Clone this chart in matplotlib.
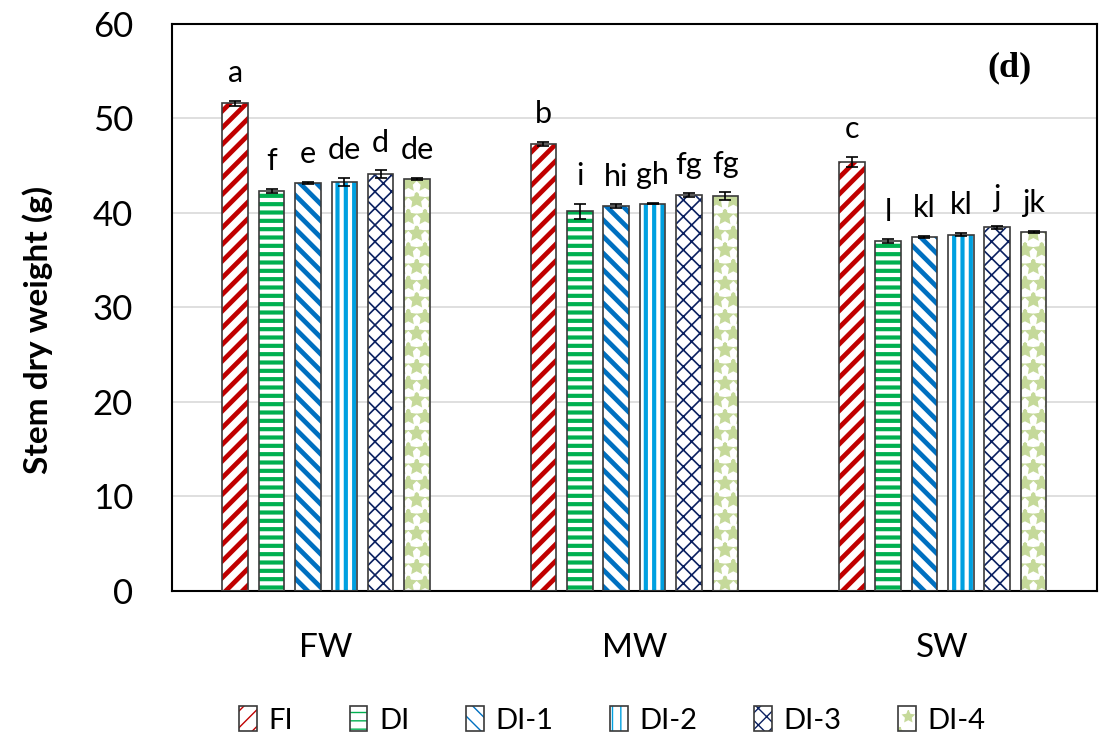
import matplotlib.pyplot as plt
import numpy as np

plt.rcParams['font.family'] = ['Lato', 'DejaVu Sans']

groups = ['FW', 'MW', 'SW']
treatments = ['FI', 'DI', 'DI-1', 'DI-2', 'DI-3', 'DI-4']

# mean stem dry weight (g), rows = treatment, cols = FW, MW, SW
means = [
    [51.6, 47.3, 45.4],
    [42.3, 40.2, 37.0],
    [43.2, 40.7, 37.5],
    [43.3, 41.0, 37.7],
    [44.1, 41.9, 38.5],
    [43.6, 41.8, 38.0],
]
errs = [
    [0.3, 0.2, 0.5],
    [0.2, 0.8, 0.2],
    [0.1, 0.2, 0.1],
    [0.4, 0.1, 0.15],
    [0.4, 0.2, 0.15],
    [0.1, 0.4, 0.1],
]
letters = [
    ['a', 'b', 'c'],
    ['f', 'i', 'l'],
    ['e', 'hi', 'kl'],
    ['de', 'gh', 'kl'],
    ['d', 'fg', 'j'],
    ['de', 'fg', 'jk'],
]

hatch_colors = ['#c00000', '#00b050', '#0070c0', '#00a0e0', '#0a2060', '#c5d99a']
hatches = ['//', '--', '\\\\', '||', 'xx', '*']
hatch_lw = [3.4, 3.0, 3.4, 3.0, 1.2, 2.4]

fig = plt.figure(figsize=(10.99, 7.49), dpi=100)
ax = fig.add_axes([0.1565, 0.211, 0.8415, 0.757])

x = np.arange(len(groups))
step = 0.118
width = 0.083

handles = []
for i, t in enumerate(treatments):
    pos = x + (i - 2.5) * step
    with plt.rc_context({'hatch.linewidth': hatch_lw[i]}):
        h1 = ax.bar(pos, means[i], width, color='white', edgecolor=hatch_colors[i],
                    hatch=hatches[i], linewidth=0, zorder=2)
    h2 = ax.bar(pos, means[i], width, fill=False, edgecolor='#3a3a3a',
                linewidth=1.2, zorder=3)
    handles.append((h1, h2))
    ax.errorbar(pos, means[i], yerr=errs[i], fmt='none', ecolor='black',
                elinewidth=1.2, capsize=4, capthick=1.2, zorder=4)
    for j in range(len(groups)):
        ax.text(pos[j], means[i][j] + errs[i][j] + 2.0, letters[i][j],
                ha='center', va='baseline', fontsize=22)

ax.set_xlim(-0.5, 2.5)
ax.set_ylim(0, 60)
ax.set_yticks(range(0, 61, 10))
ax.set_xticks(x)
ax.set_xticklabels(groups)
ax.tick_params(axis='both', length=0)
ax.tick_params(axis='x', pad=30, labelsize=24)
ax.tick_params(axis='y', pad=28, labelsize=25)
ax.grid(axis='y', color='#d9d9d9', linewidth=1.2, zorder=0)
ax.set_axisbelow(True)
for s in ax.spines.values():
    s.set_color('black')
    s.set_linewidth(1.5)

ax.set_ylabel('Stem dry weight (g)', fontsize=24, fontweight='bold', va='center')
ax.yaxis.set_label_coords(-0.145, 0.46)
ax.text(0.906, 0.922, '(d)', transform=ax.transAxes, fontsize=26,
        fontweight='bold', family='Liberation Serif', ha='center', va='center')

ax.legend(handles, treatments, loc='center', bbox_to_anchor=(0.476, -0.2275),
          ncol=6, frameon=False, fontsize=21, handlelength=0.6, handleheight=0.9,
          columnspacing=1.95, handletextpad=0.4)

fig.savefig('out.png', dpi=100)
